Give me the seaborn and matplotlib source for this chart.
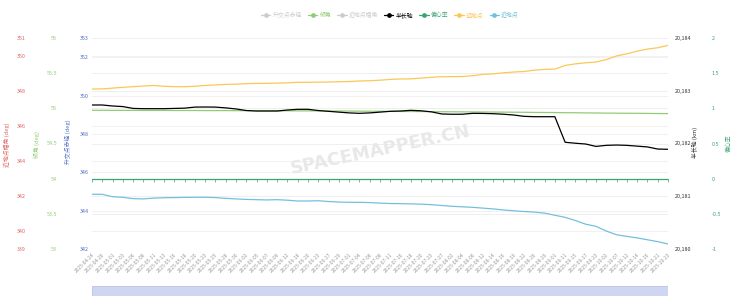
import matplotlib
matplotlib.use("Agg")
import matplotlib.pyplot as plt
from matplotlib.lines import Line2D
from matplotlib.patches import Rectangle
import seaborn as sns
import numpy as np

sns.set_style("white")
plt.rcParams['font.family'] = ['Noto Sans CJK SC', 'DejaVu Sans']

dates = ["2025-04-24", "2025-04-26", "2025-05-01", "2025-05-03", "2025-05-06", "2025-05-08",
         "2025-05-11", "2025-05-13", "2025-05-16", "2025-05-18", "2025-05-20", "2025-05-23",
         "2025-05-25", "2025-05-28", "2025-05-30", "2025-06-02", "2025-06-05", "2025-06-07",
         "2025-06-09", "2025-06-12", "2025-06-18", "2025-06-20", "2025-06-23", "2025-06-27",
         "2025-06-29", "2025-07-01", "2025-07-04", "2025-07-06", "2025-07-08", "2025-07-11",
         "2025-07-16", "2025-07-18", "2025-07-20", "2025-07-23", "2025-07-27", "2025-08-02",
         "2025-08-04", "2025-08-06", "2025-08-12", "2025-08-14", "2025-08-16", "2025-08-19",
         "2025-08-22", "2025-08-26", "2025-08-29", "2025-09-01", "2025-09-11", "2025-09-15",
         "2025-09-17", "2025-09-23", "2025-10-02", "2025-10-07", "2025-10-12", "2025-10-14",
         "2025-10-16", "2025-10-21", "2025-10-23"]

semi_major = [20182.730, 20182.730, 20182.711, 20182.700, 20182.665, 20182.660, 20182.660,
              20182.660, 20182.665, 20182.670, 20182.690, 20182.692, 20182.690, 20182.675,
              20182.655, 20182.625, 20182.616, 20182.616, 20182.616, 20182.635, 20182.648,
              20182.648, 20182.625, 20182.610, 20182.595, 20182.580, 20182.572, 20182.580,
              20182.595, 20182.610, 20182.616, 20182.629, 20182.620, 20182.600, 20182.560,
              20182.554, 20182.555, 20182.572, 20182.570, 20182.565, 20182.555, 20182.540,
              20182.515, 20182.508, 20182.508, 20182.508, 20182.023, 20182.005, 20181.990,
              20181.945, 20181.965, 20181.971, 20181.965, 20181.950, 20181.935, 20181.895,
              20181.890]

apogee = [20183.033, 20183.035, 20183.050, 20183.065, 20183.077, 20183.090, 20183.100,
          20183.085, 20183.077, 20183.077, 20183.085, 20183.100, 20183.110, 20183.120,
          20183.125, 20183.135, 20183.140, 20183.140, 20183.145, 20183.150, 20183.160,
          20183.160, 20183.163, 20183.165, 20183.171, 20183.175, 20183.185, 20183.190,
          20183.200, 20183.215, 20183.223, 20183.225, 20183.240, 20183.255, 20183.266,
          20183.268, 20183.270, 20183.285, 20183.310, 20183.320, 20183.340, 20183.355,
          20183.365, 20183.390, 20183.405, 20183.410, 20183.480, 20183.510, 20183.530,
          20183.545, 20183.590, 20183.660, 20183.700, 20183.750, 20183.790, 20183.815,
          20183.860]

perigee = [20181.037, 20181.037, 20180.991, 20180.980, 20180.955, 20180.950, 20180.965,
           20180.972, 20180.975, 20180.978, 20180.980, 20180.980, 20180.975, 20180.960,
           20180.950, 20180.940, 20180.935, 20180.930, 20180.935, 20180.925, 20180.910,
           20180.910, 20180.915, 20180.900, 20180.890, 20180.885, 20180.885, 20180.880,
           20180.870, 20180.862, 20180.860, 20180.855, 20180.850, 20180.840, 20180.825,
           20180.810, 20180.800, 20180.790, 20180.775, 20180.760, 20180.740, 20180.725,
           20180.710, 20180.700, 20180.680, 20180.640, 20180.600, 20180.540, 20180.470,
           20180.430, 20180.340, 20180.270, 20180.240, 20180.210, 20180.175, 20180.140,
           20180.095]

inclination = [54.972, 54.972, 54.971, 54.971, 54.971, 54.970, 54.970, 54.970, 54.969,
               54.969, 54.969, 54.968, 54.968, 54.968, 54.967, 54.967, 54.966, 54.966,
               54.965, 54.965, 54.964, 54.964, 54.963, 54.962, 54.962, 54.961, 54.960,
               54.959, 54.958, 54.957, 54.956, 54.955, 54.954, 54.953, 54.952, 54.951,
               54.950, 54.949, 54.948, 54.947, 54.946, 54.945, 54.944, 54.942, 54.941,
               54.940, 54.938, 54.937, 54.935, 54.934, 54.932, 54.931, 54.930, 54.929,
               54.928, 54.926, 54.925]

eccentricity = [0.0002, 0.0002, 0.0002, 0.0002, 0.0002, 0.0002, 0.0002, 0.0002, 0.0002,
                0.0002, 0.0002, 0.0002, 0.0002, 0.0002, 0.0002, 0.0002, 0.0002, 0.0002,
                0.0002, 0.0002, 0.0002, 0.0002, 0.0002, 0.0002, 0.0002, 0.0002, 0.0002,
                0.0002, 0.0002, 0.0002, 0.0002, 0.0002, 0.0002, 0.0002, 0.0002, 0.0002,
                0.0002, 0.0002, 0.0002, 0.0002, 0.0002, 0.0002, 0.0002, 0.0002, 0.0002,
                0.0002, 0.0002, 0.0002, 0.0002, 0.0002, 0.0002, 0.0002, 0.0002, 0.0002,
                0.0002, 0.0002, 0.0002]

raan_ticks = [342, 344, 346, 348, 350, 352, 353]
incl_ticks = [53, 53.5, 54, 54.5, 55, 55.5, 56]
argp_ticks = [339, 340, 342, 344, 346, 348, 350, 351]
sma_ticks = [20180, 20181, 20182, 20183, 20184]
ecc_ticks = [-1, -0.5, 0, 0.5, 1, 1.5, 2]

legend_names = ["升交点赤经", "倾角", "近地点幅角", "半长轴", "偏心率", "远地点", "近地点"]

C_RED = "#e06666"
C_GREEN = "#91cc75"
C_BLUE = "#5470c6"
C_BLACK = "#000000"
C_TEAL = "#3ba272"
C_YELLOW = "#fac858"
C_LBLUE = "#73c0de"
C_GRAY = "#cccccc"
C_GRID = "#efefef"

W, H = 742, 298
PT = 0.72  # points per pixel at dpi 100
fig = plt.figure(figsize=(W / 100, H / 100), dpi=100)
L, R, T, B = 92, 668, 38, 249
rect = [L / W, (H - B) / H, (R - L) / W, (B - T) / H]

x = np.arange(len(dates))

ax0 = fig.add_axes(rect)  # 升交点赤经 axis (left, innermost)
ax0.set_ylim(raan_ticks[0], raan_ticks[-1])
ax0.set_xlim(0, len(dates) - 1)
ax_g = ax0.twinx()
ax_r = ax0.twinx()
ax_k = ax0.twinx()
ax_e = ax0.twinx()
ax_g.set_ylim(incl_ticks[0], incl_ticks[-1])
ax_r.set_ylim(argp_ticks[0], argp_ticks[-1])
ax_k.set_ylim(sma_ticks[0], sma_ticks[-1])
ax_e.set_ylim(ecc_ticks[0], ecc_ticks[-1])

# gridlines from all axes, drawn on the bottom axes
for ticks in [raan_ticks, incl_ticks, argp_ticks, sma_ticks, ecc_ticks]:
    lo, hi = ticks[0], ticks[-1]
    for t in ticks:
        f = (t - lo) / (hi - lo)
        ax0.plot([0, 1], [f, f], transform=ax0.transAxes, color=C_GRID, lw=0.6, zorder=0)

for a in [ax0, ax_g, ax_r, ax_k, ax_e]:
    for s in a.spines.values():
        s.set_visible(False)

TS = 3.9
# left axes
ax0.set_yticks(raan_ticks)
ax0.yaxis.tick_left()
ax0.tick_params(axis='y', length=0, pad=3 * PT, labelsize=TS, labelcolor=C_BLUE)
ax_g.yaxis.tick_left()
ax_g.set_yticks(incl_ticks)
ax_g.set_yticklabels([f"{t:g}" for t in incl_ticks])
ax_g.spines['left'].set_position(('outward', 35 * PT))
ax_g.tick_params(axis='y', left=True, right=False, labelleft=True, labelright=False,
                 length=0, pad=0, labelsize=TS, labelcolor=C_GREEN)
ax_r.yaxis.tick_left()
ax_r.set_yticks(argp_ticks)
ax_r.spines['left'].set_position(('outward', 66 * PT))
ax_r.tick_params(axis='y', left=True, right=False, labelleft=True, labelright=False,
                 length=0, pad=0, labelsize=TS, labelcolor=C_RED)

# right axes
ax_k.set_yticks(sma_ticks)
ax_k.set_yticklabels([f"{t:,}" for t in sma_ticks])
ax_k.tick_params(axis='y', length=0, pad=7 * PT, labelsize=TS, labelcolor="#333333")
ax_e.set_yticks(ecc_ticks)
ax_e.set_yticklabels([f"{t:g}" for t in ecc_ticks])
ax_e.spines['right'].set_position(('outward', 44 * PT))
ax_e.tick_params(axis='y', length=0, pad=0, labelsize=TS, labelcolor=C_TEAL)

# x axis
ax0.set_xticks(x)
ax0.set_xticklabels(dates, rotation=45, ha='right', rotation_mode='anchor')
ax0.tick_params(axis='x', length=0, pad=3 * PT, labelsize=3.5, labelcolor="#999999")

# data
sns.lineplot(x=x, y=inclination, ax=ax_g, color=C_GREEN, lw=0.9, legend=False)
sns.lineplot(x=x, y=apogee, ax=ax_k, color=C_YELLOW, lw=0.9, legend=False)
sns.lineplot(x=x, y=perigee, ax=ax_k, color=C_LBLUE, lw=0.9, legend=False)
sns.lineplot(x=x, y=semi_major, ax=ax_k, color=C_BLACK, lw=0.9, legend=False)
sns.lineplot(x=x, y=eccentricity, ax=ax_e, color=C_TEAL, lw=0.9, legend=False)
for a in [ax_g, ax_r, ax_k, ax_e]:
    a.set_ylabel("")
    a.set_xlabel("")
ax0.set_xlim(0, len(dates) - 1)

# axis line with ticks at eccentricity zero
ax_e.xaxis.set_visible(True)
ax_e.spines['bottom'].set_visible(True)
ax_e.spines['bottom'].set_position(('data', 0))
ax_e.spines['bottom'].set_color(C_TEAL)
ax_e.spines['bottom'].set_linewidth(0.6)
ax_e.set_xticks(x)
ax_e.tick_params(axis='x', bottom=True, labelbottom=False, length=2, width=0.5, color=C_TEAL)

# axis names
name_kw = dict(rotation=90, ha='center', va='center', fontsize=4.2)
fig.text(7 / W, 1 - 145 / H, "近地点幅角 (deg)", color=C_RED, **name_kw)
fig.text(37 / W, 1 - 145 / H, "倾角 (deg)", color=C_GREEN, **name_kw)
fig.text(68 / W, 1 - 142 / H, "升交点赤经 (deg)", color=C_BLUE, **name_kw)
fig.text(695 / W, 1 - 142 / H, "半长轴 (km)", color="#333333", **name_kw)
fig.text(729 / W, 1 - 143 / H, "偏心率", color=C_TEAL, **name_kw)

# watermark
fig.text(380 / W, 1 - 150 / H, "SPACEMAPPER.CN", rotation=12, fontsize=13, fontweight='bold',
         color="#e8e8e8", ha='center', va='center', family='DejaVu Sans', zorder=0)

# legend
leg_colors = [C_GRAY, C_GREEN, C_GRAY, C_BLACK, C_TEAL, C_YELLOW, C_LBLUE]
handles = [Line2D([], [], color=c, lw=0.9, marker='o', markersize=2.4) for c in leg_colors]
fig.legend(handles, legend_names, loc='center', bbox_to_anchor=(390 / W, 1 - 15 / H), ncol=7,
           fontsize=4.2, frameon=False, handlelength=1.6, columnspacing=1.0, handletextpad=0.4,
           labelcolor=leg_colors)

# data zoom slider
axs = fig.add_axes([L / W, 2 / H, (R - L) / W, 10 / H])
axs.set_xlim(0, 1)
axs.set_ylim(0, 1)
axs.add_patch(Rectangle((0, 0), 1, 1, facecolor="#cfd6f1", edgecolor="#b9c2e3", lw=0.6))
axs.set_xticks([])
axs.set_yticks([])
for s in axs.spines.values():
    s.set_visible(False)

fig.savefig("out.png", dpi=100)
